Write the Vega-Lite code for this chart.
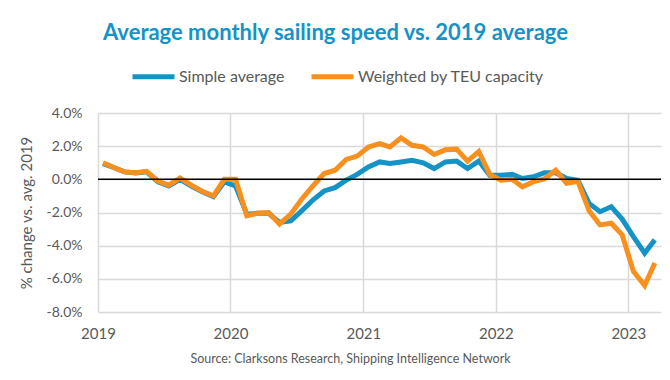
{
  "$schema": "https://vega.github.io/schema/vega-lite/v6.json",
  "width": 563,
  "height": 199,
  "autosize": {"type": "none"},
  "padding": {"left": 98, "top": 113, "right": 9, "bottom": 68},
  "background": "white",
  "config": {
    "view": {"stroke": null},
    "font": "Lato"
  },
  "title": {
    "text": "Average monthly sailing speed vs. 2019 average",
    "color": "#1593C6",
    "fontSize": 22,
    "fontWeight": "bold",
    "font": "Lato",
    "anchor": "middle",
    "dx": -44,
    "offset": 8
  },
  "datasets": {
    "series": [
      {"date": "2019-01-15T00:00:00", "s": "Simple average", "v": 0.95},
      {"date": "2019-02-15T00:00:00", "s": "Simple average", "v": 0.7},
      {"date": "2019-03-15T00:00:00", "s": "Simple average", "v": 0.45},
      {"date": "2019-04-15T00:00:00", "s": "Simple average", "v": 0.38},
      {"date": "2019-05-15T00:00:00", "s": "Simple average", "v": 0.45},
      {"date": "2019-06-15T00:00:00", "s": "Simple average", "v": -0.15},
      {"date": "2019-07-15T00:00:00", "s": "Simple average", "v": -0.4},
      {"date": "2019-08-15T00:00:00", "s": "Simple average", "v": 0.0},
      {"date": "2019-09-15T00:00:00", "s": "Simple average", "v": -0.4},
      {"date": "2019-10-15T00:00:00", "s": "Simple average", "v": -0.75},
      {"date": "2019-11-15T00:00:00", "s": "Simple average", "v": -1.05},
      {"date": "2019-12-15T00:00:00", "s": "Simple average", "v": -0.15},
      {"date": "2020-01-15T00:00:00", "s": "Simple average", "v": -0.4},
      {"date": "2020-02-15T00:00:00", "s": "Simple average", "v": -2.1},
      {"date": "2020-03-15T00:00:00", "s": "Simple average", "v": -2.05},
      {"date": "2020-04-15T00:00:00", "s": "Simple average", "v": -2.05},
      {"date": "2020-05-15T00:00:00", "s": "Simple average", "v": -2.6},
      {"date": "2020-06-15T00:00:00", "s": "Simple average", "v": -2.5},
      {"date": "2020-07-15T00:00:00", "s": "Simple average", "v": -1.9},
      {"date": "2020-08-15T00:00:00", "s": "Simple average", "v": -1.25},
      {"date": "2020-09-15T00:00:00", "s": "Simple average", "v": -0.7},
      {"date": "2020-10-15T00:00:00", "s": "Simple average", "v": -0.5},
      {"date": "2020-11-15T00:00:00", "s": "Simple average", "v": -0.05},
      {"date": "2020-12-15T00:00:00", "s": "Simple average", "v": 0.3},
      {"date": "2021-01-15T00:00:00", "s": "Simple average", "v": 0.75},
      {"date": "2021-02-15T00:00:00", "s": "Simple average", "v": 1.05},
      {"date": "2021-03-15T00:00:00", "s": "Simple average", "v": 0.95},
      {"date": "2021-04-15T00:00:00", "s": "Simple average", "v": 1.05},
      {"date": "2021-05-15T00:00:00", "s": "Simple average", "v": 1.15},
      {"date": "2021-06-15T00:00:00", "s": "Simple average", "v": 1.0},
      {"date": "2021-07-15T00:00:00", "s": "Simple average", "v": 0.65},
      {"date": "2021-08-15T00:00:00", "s": "Simple average", "v": 1.05},
      {"date": "2021-09-15T00:00:00", "s": "Simple average", "v": 1.1},
      {"date": "2021-10-15T00:00:00", "s": "Simple average", "v": 0.65},
      {"date": "2021-11-15T00:00:00", "s": "Simple average", "v": 1.1},
      {"date": "2021-12-15T00:00:00", "s": "Simple average", "v": 0.25},
      {"date": "2022-01-15T00:00:00", "s": "Simple average", "v": 0.25},
      {"date": "2022-02-15T00:00:00", "s": "Simple average", "v": 0.3},
      {"date": "2022-03-15T00:00:00", "s": "Simple average", "v": 0.05},
      {"date": "2022-04-15T00:00:00", "s": "Simple average", "v": 0.15},
      {"date": "2022-05-15T00:00:00", "s": "Simple average", "v": 0.4},
      {"date": "2022-06-15T00:00:00", "s": "Simple average", "v": 0.4},
      {"date": "2022-07-15T00:00:00", "s": "Simple average", "v": 0.05},
      {"date": "2022-08-15T00:00:00", "s": "Simple average", "v": -0.05},
      {"date": "2022-09-15T00:00:00", "s": "Simple average", "v": -1.45},
      {"date": "2022-10-15T00:00:00", "s": "Simple average", "v": -1.95},
      {"date": "2022-11-15T00:00:00", "s": "Simple average", "v": -1.65},
      {"date": "2022-12-15T00:00:00", "s": "Simple average", "v": -2.4},
      {"date": "2023-01-15T00:00:00", "s": "Simple average", "v": -3.45},
      {"date": "2023-02-15T00:00:00", "s": "Simple average", "v": -4.45},
      {"date": "2023-03-15T00:00:00", "s": "Simple average", "v": -3.65},
      {"date": "2019-01-15T00:00:00", "s": "Weighted by TEU capacity", "v": 1.0},
      {"date": "2019-02-15T00:00:00", "s": "Weighted by TEU capacity", "v": 0.7},
      {"date": "2019-03-15T00:00:00", "s": "Weighted by TEU capacity", "v": 0.45},
      {"date": "2019-04-15T00:00:00", "s": "Weighted by TEU capacity", "v": 0.4},
      {"date": "2019-05-15T00:00:00", "s": "Weighted by TEU capacity", "v": 0.48},
      {"date": "2019-06-15T00:00:00", "s": "Weighted by TEU capacity", "v": -0.1},
      {"date": "2019-07-15T00:00:00", "s": "Weighted by TEU capacity", "v": -0.35},
      {"date": "2019-08-15T00:00:00", "s": "Weighted by TEU capacity", "v": 0.08},
      {"date": "2019-09-15T00:00:00", "s": "Weighted by TEU capacity", "v": -0.35},
      {"date": "2019-10-15T00:00:00", "s": "Weighted by TEU capacity", "v": -0.72},
      {"date": "2019-11-15T00:00:00", "s": "Weighted by TEU capacity", "v": -1.0},
      {"date": "2019-12-15T00:00:00", "s": "Weighted by TEU capacity", "v": 0.0},
      {"date": "2020-01-15T00:00:00", "s": "Weighted by TEU capacity", "v": 0.0},
      {"date": "2020-02-15T00:00:00", "s": "Weighted by TEU capacity", "v": -2.2},
      {"date": "2020-03-15T00:00:00", "s": "Weighted by TEU capacity", "v": -2.05},
      {"date": "2020-04-15T00:00:00", "s": "Weighted by TEU capacity", "v": -2.0},
      {"date": "2020-05-15T00:00:00", "s": "Weighted by TEU capacity", "v": -2.7},
      {"date": "2020-06-15T00:00:00", "s": "Weighted by TEU capacity", "v": -2.1},
      {"date": "2020-07-15T00:00:00", "s": "Weighted by TEU capacity", "v": -1.2},
      {"date": "2020-08-15T00:00:00", "s": "Weighted by TEU capacity", "v": -0.4},
      {"date": "2020-09-15T00:00:00", "s": "Weighted by TEU capacity", "v": 0.35},
      {"date": "2020-10-15T00:00:00", "s": "Weighted by TEU capacity", "v": 0.55},
      {"date": "2020-11-15T00:00:00", "s": "Weighted by TEU capacity", "v": 1.2},
      {"date": "2020-12-15T00:00:00", "s": "Weighted by TEU capacity", "v": 1.4},
      {"date": "2021-01-15T00:00:00", "s": "Weighted by TEU capacity", "v": 1.95},
      {"date": "2021-02-15T00:00:00", "s": "Weighted by TEU capacity", "v": 2.15},
      {"date": "2021-03-15T00:00:00", "s": "Weighted by TEU capacity", "v": 1.95},
      {"date": "2021-04-15T00:00:00", "s": "Weighted by TEU capacity", "v": 2.5},
      {"date": "2021-05-15T00:00:00", "s": "Weighted by TEU capacity", "v": 2.05},
      {"date": "2021-06-15T00:00:00", "s": "Weighted by TEU capacity", "v": 1.95},
      {"date": "2021-07-15T00:00:00", "s": "Weighted by TEU capacity", "v": 1.5},
      {"date": "2021-08-15T00:00:00", "s": "Weighted by TEU capacity", "v": 1.78},
      {"date": "2021-09-15T00:00:00", "s": "Weighted by TEU capacity", "v": 1.82},
      {"date": "2021-10-15T00:00:00", "s": "Weighted by TEU capacity", "v": 1.1},
      {"date": "2021-11-15T00:00:00", "s": "Weighted by TEU capacity", "v": 1.68},
      {"date": "2021-12-15T00:00:00", "s": "Weighted by TEU capacity", "v": 0.3},
      {"date": "2022-01-15T00:00:00", "s": "Weighted by TEU capacity", "v": -0.05},
      {"date": "2022-02-15T00:00:00", "s": "Weighted by TEU capacity", "v": 0.0},
      {"date": "2022-03-15T00:00:00", "s": "Weighted by TEU capacity", "v": -0.45},
      {"date": "2022-04-15T00:00:00", "s": "Weighted by TEU capacity", "v": -0.14},
      {"date": "2022-05-15T00:00:00", "s": "Weighted by TEU capacity", "v": 0.03},
      {"date": "2022-06-15T00:00:00", "s": "Weighted by TEU capacity", "v": 0.55},
      {"date": "2022-07-15T00:00:00", "s": "Weighted by TEU capacity", "v": -0.24},
      {"date": "2022-08-15T00:00:00", "s": "Weighted by TEU capacity", "v": -0.12},
      {"date": "2022-09-15T00:00:00", "s": "Weighted by TEU capacity", "v": -1.9},
      {"date": "2022-10-15T00:00:00", "s": "Weighted by TEU capacity", "v": -2.75},
      {"date": "2022-11-15T00:00:00", "s": "Weighted by TEU capacity", "v": -2.65},
      {"date": "2022-12-15T00:00:00", "s": "Weighted by TEU capacity", "v": -3.35},
      {"date": "2023-01-15T00:00:00", "s": "Weighted by TEU capacity", "v": -5.55},
      {"date": "2023-02-15T00:00:00", "s": "Weighted by TEU capacity", "v": -6.4},
      {"date": "2023-03-15T00:00:00", "s": "Weighted by TEU capacity", "v": -5.05}
    ],
    "zero": [{"v": 0}]
  },
  "encoding": {
    "y": {
      "field": "v",
      "type": "quantitative",
      "scale": {"domain": [-8, 4], "nice": false},
      "axis": {
        "values": [-8, -6, -4, -2, 0, 2, 4],
        "tickCount": 7,
        "labelExpr": "(datum.value < 0 ? '-' : '') + format(abs(datum.value) / 100, '.1%')",
        "grid": true,
        "gridColor": "#D9D9D9",
        "gridWidth": 1.5,
        "domain": false,
        "ticks": false,
        "labelOverlap": false,
        "labelFont": "Lato",
        "labelFontSize": 14,
        "labelColor": "#595959",
        "labelPadding": 16,
        "title": "% change vs. avg. 2019",
        "titleFont": "Lato",
        "titleFontSize": 15,
        "titleFontWeight": "normal",
        "titleColor": "#595959",
        "titlePadding": 12
      }
    }
  },
  "layer": [
    {
      "data": {"name": "series"},
      "mark": {"type": "line", "strokeWidth": 5, "strokeJoin": "miter", "strokeCap": "butt"},
      "encoding": {
        "x": {
          "field": "date",
          "type": "temporal",
          "scale": {"domain": ["2019-01-01T00:00:00", "2023-04-01T00:00:00"]},
          "axis": {
            "values": [{"year": 2019}, {"year": 2020}, {"year": 2021}, {"year": 2022}, {"year": 2023}],
            "format": "%Y",
            "grid": true,
            "gridColor": "#D9D9D9",
            "gridWidth": 1.5,
            "domain": false,
            "ticks": false,
            "labelFont": "Lato",
            "labelFontSize": 15,
            "labelColor": "#595959",
            "labelPadding": 14,
            "labelFlush": false,
            "labelOverlap": false,
            "title": "Source: Clarksons Research, Shipping Intelligence Network",
            "titleFont": "Lato",
            "titleFontSize": 12.5,
            "titleFontWeight": "normal",
            "titleColor": "#595959",
            "titleX": 252,
            "titlePadding": 11
          }
        },
        "color": {
          "field": "s",
          "type": "nominal",
          "scale": {"domain": ["Simple average", "Weighted by TEU capacity"], "range": ["#1593C6", "#F7901E"]},
          "legend": {
            "orient": "none",
            "legendX": 32,
            "legendY": -60,
            "direction": "horizontal",
            "title": null,
            "symbolType": "stroke",
            "symbolStrokeWidth": 5,
            "symbolSize": 1764,
            "labelFont": "Lato",
            "labelFontSize": 16,
            "labelColor": "#595959",
            "labelLimit": 400,
            "columnPadding": 16,
            "labelOffset": 2
          }
        }
      }
    },
    {
      "data": {"name": "zero"},
      "mark": {"type": "rule", "color": "black", "strokeWidth": 1.5},
      "encoding": {}
    }
  ]
}
